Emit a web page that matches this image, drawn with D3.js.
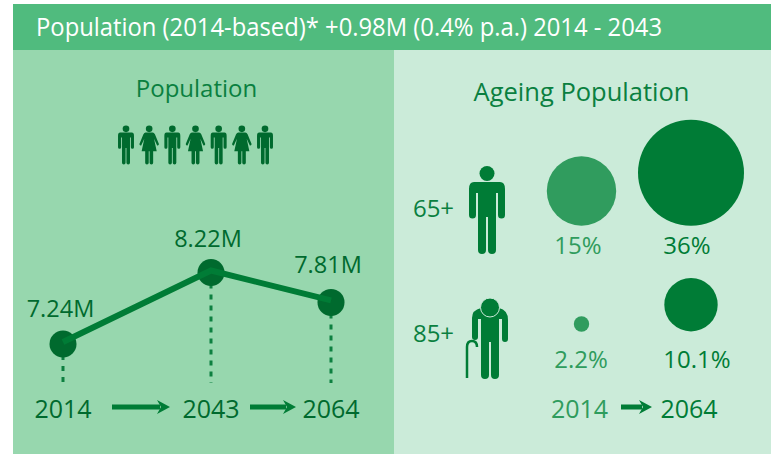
<!DOCTYPE html>
<html>
<head>
<meta charset="utf-8">
<script src="https://cdn.jsdelivr.net/npm/d3@7"></script>
<style>
html,body{margin:0;padding:0;background:#fff;}
text{font-family:"Open Sans",sans-serif;}
</style>
</head>
<body>
<svg id="mainSvg" width="771" height="454"></svg>
<script>
// population line
var years = ["2014", "2043", "2064"];
var popValues = [7.24, 8.22, 7.81];
var popLabels = ["7.24M", "8.22M", "7.81M"];

// ageing bubbles
var ageGroups = ["65+", "85+"];
var ageYears = ["2014", "2064"];
var share2014 = [15, 2.2];
var share2064 = [36, 10.1];
var shareLabels2014 = ["15%", "2.2%"];
var shareLabels2064 = ["36%", "10.1%"];

var peopleRow = ["m", "f", "m", "f", "m", "f", "m"];

var dark = "#006a2e", mid = "#007c36", soft = "#309c5e", textGreen = "#0a8040", softText = "#2f9c5d";

var svg = d3.select("#mainSvg");

svg.append("rect").attr("x", 13).attr("y", 4).attr("width", 758).attr("height", 46).attr("fill", "#50bb7e");
svg.append("rect").attr("x", 13).attr("y", 50).attr("width", 381).attr("height", 404).attr("fill", "#97d7ae");
svg.append("rect").attr("x", 394).attr("y", 50).attr("width", 377).attr("height", 404).attr("fill", "#cbebd9");

svg.append("text").attr("x", 36).attr("y", 36).attr("font-size", 25).attr("fill", "#fff")
  .attr("textLength", 626).attr("lengthAdjust", "spacingAndGlyphs")
  .text("Population (2014-based)* +0.98M (0.4% p.a.) 2014 - 2043");

// left panel
var g = svg.append("g");
g.append("text").attr("x", 196.5).attr("y", 97).attr("text-anchor", "middle").attr("font-size", 24).attr("fill", textGreen).text("Population");

// the three years are not evenly spaced in the picture
var x = d3.scaleOrdinal().domain(years).range([63, 211, 331]);
var y = d3.scaleLinear().domain([7.24, 8.22]).range([344, 272.5]);

g.selectAll(".drop").data(years).enter().append("line")
  .attr("x1", function(d) { return x(d); })
  .attr("x2", function(d) { return x(d); })
  .attr("y1", function(d, i) { return y(popValues[i]); })
  .attr("y2", 383)
  .attr("stroke", "#0d8040").attr("stroke-width", 3).attr("stroke-dasharray", "5 6");

g.selectAll(".dot").data(popValues).enter().append("circle")
  .attr("cx", function(d, i) { return x(years[i]); })
  .attr("cy", function(d) { return y(d); })
  .attr("r", 13.5).attr("fill", dark);

var line = d3.line().x(function(d, i) { return x(years[i]); }).y(function(d) { return y(d); });
g.append("path").attr("d", line(popValues)).attr("transform", "translate(0,-2)")
  .attr("fill", "none").attr("stroke", mid).attr("stroke-width", 6);

var labelPos = [[60.5, 317], [208, 247], [328, 273]];
g.selectAll(".plab").data(popLabels).enter().append("text")
  .attr("x", function(d, i) { return labelPos[i][0]; })
  .attr("y", function(d, i) { return labelPos[i][1]; })
  .attr("text-anchor", "middle").attr("font-size", 23.5).attr("fill", dark)
  .text(function(d) { return d; });

g.selectAll(".ylab").data(years).enter().append("text")
  .attr("x", function(d) { return x(d); })
  .attr("y", 418).attr("text-anchor", "middle").attr("font-size", 25).attr("fill", dark)
  .text(function(d) { return d; });

function arrow(parent, x1, x2, yy, color) {
  parent.append("rect").attr("x", x1).attr("y", yy - 2.5).attr("width", x2 - x1 - 10).attr("height", 5).attr("fill", color);
  parent.append("path").attr("d", "M" + (x2 - 13) + "," + (yy - 7) + "L" + x2 + "," + yy + "L" + (x2 - 13) + "," + (yy + 7) + "L" + (x2 - 9) + "," + yy + "Z").attr("fill", color);
}
arrow(g, 112, 170, 407, mid);
arrow(g, 250, 296, 407, mid);

// small people
function person(parent, px, top, h, color) {
  var s = h / 88, p = parent.append("g").attr("transform", "translate(" + px + "," + top + ") scale(" + s + ")").attr("fill", color);
  p.append("circle").attr("cx", 0).attr("cy", 7.5).attr("r", 7.5);
  p.append("path").attr("d", "M-13,16H13Q18,16 18,23V49A3.5,3.5 0 0 1 11,49V27H9V84A4,4 0 0 1 1,84V51H-1V84A4,4 0 0 1 -9,84V27H-11V49A3.5,3.5 0 0 1 -18,49V23Q-18,16 -13,16Z");
}
function woman(parent, px, top, h, color) {
  var s = h / 88, p = parent.append("g").attr("transform", "translate(" + px + "," + top + ") scale(" + s + ")").attr("fill", color);
  p.append("circle").attr("cx", 0).attr("cy", 7.5).attr("r", 7.5);
  p.append("path").attr("d", "M-8,16H8Q11,16 13,20L22,42Q22,46 18,45L11,30L17,58H9V84A4,4 0 0 1 1,84V58H-1V84A4,4 0 0 1 -9,84V58H-17L-11,30L-18,45Q-22,46 -22,42L-13,20Q-11,16 -8,16Z");
}
var rowX = d3.scalePoint().domain(d3.range(peopleRow.length)).range([126, 265]);
peopleRow.forEach(function(k, i) {
  (k == "m" ? person : woman)(g, rowX(i), 125.5, 39, dark);
});

// right panel
var r = svg.append("g");
r.append("text").attr("x", 581.5).attr("y", 101).attr("text-anchor", "middle").attr("font-size", 25.5).attr("fill", textGreen).text("Ageing Population");

var colX = d3.scalePoint().domain(ageYears).range([581.5, 691]);
// the source bubbles are not strictly area-scaled, so use its radii as stops
var rad = d3.scaleLinear().domain([2.2, 10.1, 15, 36]).range([7.7, 26.7, 34.7, 53]);

r.selectAll(".agelab").data(ageGroups).enter().append("text")
  .attr("x", 433.5).attr("y", function(d, i) { return i == 0 ? 217 : 342; })
  .attr("text-anchor", "middle").attr("font-size", 24).attr("fill", textGreen)
  .text(function(d) { return d; });

person(r, 487, 166, 88, mid);

// old man with stick
var old = r.append("g").attr("fill", mid);
old.append("path").attr("d", "M472,337V318Q472,310 481,308L499,308Q508,310 508,320V339A3,3 0 0 1 502,339V319H499V375A4,4 0 0 1 491,375V342H489V375A4,4 0 0 1 481,375V319H478V337A3,3 0 0 1 472,337Z");
old.append("circle").attr("cx", 490).attr("cy", 307.5).attr("r", 9.5).attr("stroke", "#cbebd9").attr("stroke-width", 1);
old.append("path").attr("d", "M467,378V347Q467,341 472,341Q477,341 477,347").attr("fill", "none").attr("stroke", mid).attr("stroke-width", 2.5);

r.selectAll(".b14").data(share2014).enter().append("circle")
  .attr("cx", colX("2014")).attr("cy", function(d, i) { return i == 0 ? 191 : 324; })
  .attr("r", function(d) { return rad(d); }).attr("fill", soft);
r.selectAll(".b64").data(share2064).enter().append("circle")
  .attr("cx", colX("2064")).attr("cy", function(d, i) { return i == 0 ? 172.7 : 304.7; })
  .attr("r", function(d) { return rad(d); }).attr("fill", mid);

var lab14X = [578, 581], lab64X = [687, 697];
r.selectAll(".l14").data(shareLabels2014).enter().append("text")
  .attr("x", function(d, i) { return lab14X[i]; }).attr("y", function(d, i) { return i == 0 ? 254 : 368; })
  .attr("text-anchor", "middle").attr("font-size", 24).attr("fill", softText)
  .text(function(d) { return d; });
r.selectAll(".l64").data(shareLabels2064).enter().append("text")
  .attr("x", function(d, i) { return lab64X[i]; }).attr("y", function(d, i) { return i == 0 ? 254 : 368; })
  .attr("text-anchor", "middle").attr("font-size", 24).attr("fill", mid)
  .text(function(d) { return d; });

r.append("text").attr("x", 579.5).attr("y", 418).attr("text-anchor", "middle").attr("font-size", 25).attr("fill", softText).text(ageYears[0]);
r.append("text").attr("x", 689).attr("y", 418).attr("text-anchor", "middle").attr("font-size", 25).attr("fill", mid).text(ageYears[1]);
arrow(r, 621, 652, 407, mid);
</script>
</body>
</html>
